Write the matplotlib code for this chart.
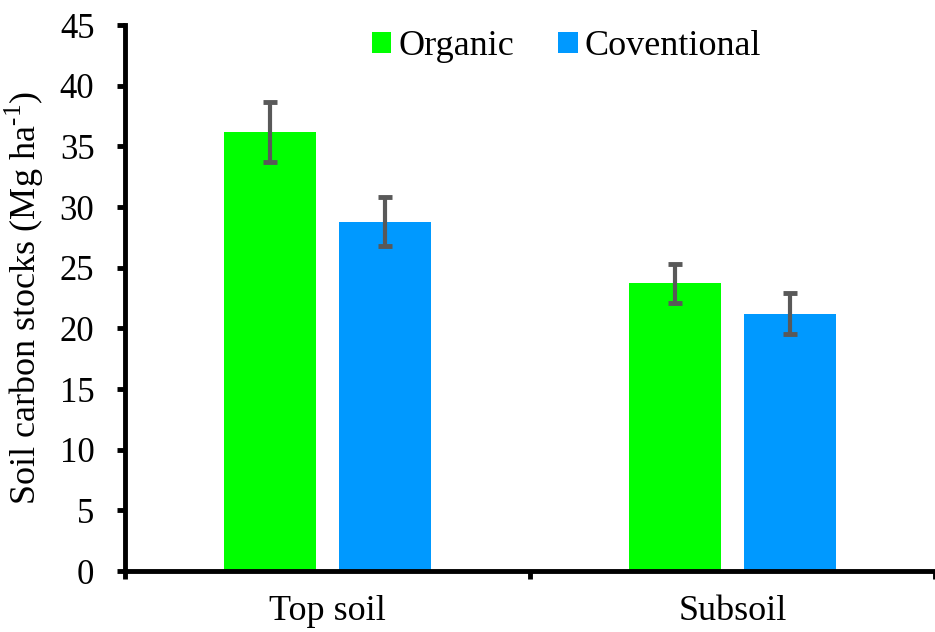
import matplotlib.pyplot as plt
import numpy as np

plt.rcParams['font.family'] = ['Liberation Serif', 'DejaVu Serif']
plt.rcParams['mathtext.fontset'] = 'custom'
plt.rcParams['mathtext.rm'] = 'Liberation Serif'

categories = ["Top soil", "Subsoil"]
organic = [36.2, 23.7]
organic_err = [2.45, 1.6]
conventional = [28.8, 21.2]
conventional_err = [2.0, 1.7]

fig = plt.figure(figsize=(9.35, 6.32), dpi=100)
ax = fig.add_axes([0.1337, 0.0965, 0.8663, 0.8639])

x = np.arange(len(categories))
w = 0.228
off = 0.142
ekw = dict(ecolor="#595959", elinewidth=3, capsize=5, capthick=3.5)
ax.bar(x - off, organic, w, color="#00FF00", label="Organic",
       yerr=organic_err, error_kw=ekw)
ax.bar(x + off, conventional, w, color="#0099FF", label="Coventional",
       yerr=conventional_err, error_kw=ekw)

ax.set_ylim(0, 45)
ax.set_yticks(range(0, 46, 5))
ax.set_xlim(-0.5, 1.485)
ax.set_xticks([-0.5, 0.5, 1.5])
ax.set_xticklabels([])
ax.set_xticks(x, minor=True)
ax.set_xticklabels(categories, minor=True)
ax.tick_params(axis='x', which='minor', length=0, pad=17, labelsize=26)
ax.tick_params(axis='x', which='major', length=6, width=3.5, direction='out')
ax.tick_params(axis='y', length=6, width=3.5, direction='out', pad=16, labelsize=25)

for s in ["top", "right"]:
    ax.spines[s].set_visible(False)
for s in ["left", "bottom"]:
    ax.spines[s].set_linewidth(3.5)

ax.set_ylabel("Soil carbon stocks (Mg ha$^{\\text{-1}}$)", fontsize=26, labelpad=10)

ax.legend(loc="upper center", bbox_to_anchor=(0.545, 1.05), ncol=2, frameon=False,
          fontsize=26, handlelength=0.55, handleheight=0.55, handletextpad=0.2,
          columnspacing=1.2)

fig.savefig("out.png", dpi=100)
